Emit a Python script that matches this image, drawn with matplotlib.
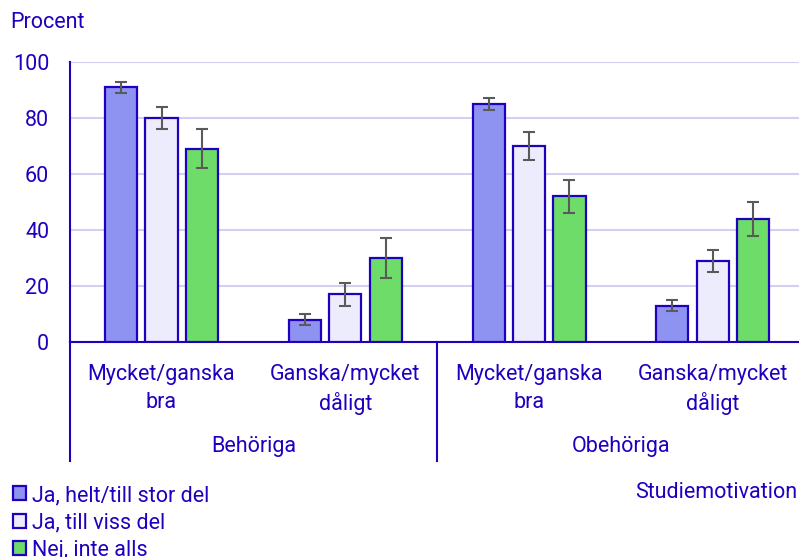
import numpy as np
import matplotlib
matplotlib.use("Agg")
import matplotlib.pyplot as plt
from matplotlib.patches import Patch
from matplotlib.lines import Line2D

plt.rcParams['font.family'] = ['Roboto', 'DejaVu Sans']

# data
categories = ["Mycket/ganska\nbra", "Ganska/mycket\ndåligt", "Mycket/ganska\nbra", "Ganska/mycket\ndåligt"]
groups = ["Behöriga", "Obehöriga"]
series = ["Ja, helt/till stor del", "Ja, till viss del", "Nej, inte alls"]
helt = [91, 8, 85, 13]
viss = [80, 17, 70, 29]
nej = [69, 30, 52, 44]
helt_lo = [89, 6, 83, 11]
helt_hi = [93, 10, 87, 15]
viss_lo = [76, 13, 65, 25]
viss_hi = [84, 21, 75, 33]
nej_lo = [62, 23, 46, 38]
nej_hi = [76, 37, 58, 50]

blue = '#1E00BE'
fills = ['#8E93F2', '#ECECFC', '#6EDC68']
grid_col = '#D3CFF2'
err_col = '#5A5A5A'
fs = 15.5

W, H = 799, 557
fig = plt.figure(figsize=(W / 100, H / 100), dpi=100)
ax = fig.add_axes([70 / W, (H - 342) / H, (W - 70) / W, 280 / H])

x = np.arange(len(categories))
step = 0.22
width = 0.175
vals = [helt, viss, nej]
los = [helt_lo, viss_lo, nej_lo]
his = [helt_hi, viss_hi, nej_hi]
for i in range(3):
    v = np.array(vals[i])
    yerr = [v - np.array(los[i]), np.array(his[i]) - v]
    ax.bar(x + (i - 1) * step, v, width, color=fills[i], edgecolor=blue,
           linewidth=1.6, zorder=3)
    ax.errorbar(x + (i - 1) * step, v, yerr=yerr, fmt='none', ecolor=err_col,
                elinewidth=1.5, capsize=4.3, capthick=1.5, zorder=4)

ax.set_ylim(0, 100)
ax.set_xlim(-0.498, 3.469)
ax.set_yticks([0, 20, 40, 60, 80, 100])
ax.yaxis.grid(True, color=grid_col, linewidth=1.5, zorder=0)
ax.set_axisbelow(True)
for s in ['top', 'right']:
    ax.spines[s].set_visible(False)
ax.spines['left'].set_color(blue)
ax.spines['bottom'].set_color(blue)
ax.spines['left'].set_linewidth(1.5)
ax.spines['bottom'].set_linewidth(1.5)
ax.tick_params(axis='y', length=0, labelsize=fs, labelcolor=blue, pad=15)
ax.set_xticks(x)
ax.set_xticklabels(categories)
ax.tick_params(axis='x', length=0, labelsize=fs, labelcolor=blue, pad=16)
for lbl in ax.get_xticklabels():
    lbl.set_linespacing(1.4)

# group separators below the axis
for px in [70, 437]:
    fig.add_artist(Line2D([px / W, px / W], [(H - 342) / H, (H - 461) / H],
                          color=blue, linewidth=1.5))
for gi, g in enumerate(groups):
    cx = (x[2 * gi] + x[2 * gi + 1]) / 2
    ax.text(cx, -0.372, g, transform=ax.get_xaxis_transform(), ha='center',
            va='center', fontsize=fs, color=blue)

fig.text(10 / W, 1 - 22 / H, "Procent", fontsize=fs, color=blue, va='center')
fig.text(797 / W, 1 - 492 / H, "Studiemotivation", fontsize=fs, color=blue,
         va='center', ha='right')

handles = [Patch(facecolor=fills[i], edgecolor=blue, linewidth=1.6) for i in range(3)]
leg = fig.legend(handles, series, loc='upper left', bbox_to_anchor=(13 / W, 1 - 485 / H),
                 frameon=False, fontsize=fs, handlelength=0.62, handleheight=0.62,
                 handletextpad=0.25, labelspacing=0.3, borderpad=0, borderaxespad=0)
for t in leg.get_texts():
    t.set_color(blue)

fig.savefig("out.png", dpi=100)
